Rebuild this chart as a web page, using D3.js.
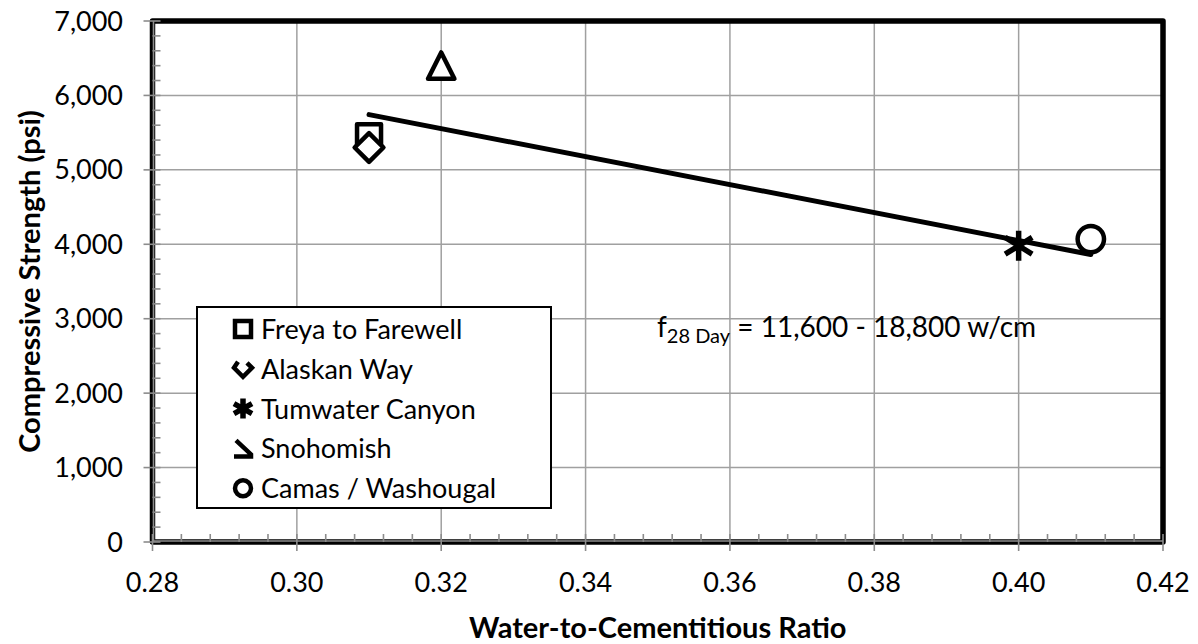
<!DOCTYPE html>
<html>
<head>
<meta charset="utf-8">
<script src="https://cdn.jsdelivr.net/npm/d3@7"></script>
<style>
  html, body { margin: 0; padding: 0; background: #fff; }
  svg { display: block; font-family: Lato, "Open Sans", sans-serif; }
</style>
</head>
<body>
<svg id="chart" width="1198" height="644"></svg>
<script>
// ---- data ----
const seriesNames = ["Freya to Farewell", "Alaskan Way", "Tumwater Canyon", "Snohomish", "Camas / Washougal"];
const seriesSymbols = ["square", "diamond", "star", "triangle", "circle"];
const wcRatio = [0.31, 0.31, 0.40, 0.32, 0.41];
const strength = [5450, 5300, 3980, 6400, 4070];
const xTicks = [0.28, 0.30, 0.32, 0.34, 0.36, 0.38, 0.40, 0.42];
const yTicks = [0, 1000, 2000, 3000, 4000, 5000, 6000, 7000];
const trendIntercept = 11570;
const trendSlope = -18800;
const trendRange = [0.31, 0.41];
const xTitle = "Water-to-Cementitious Ratio";
const yTitle = "Compressive Strength (psi)";

// ---- layout ----
const svg = d3.select("#chart");
const pL = 152.5, pR = 1163, pT = 21, pB = 542;
const x = d3.scaleLinear().domain([0.28, 0.42]).range([pL, pR]);
const y = d3.scaleLinear().domain([0, 7000]).range([pB, pT]);
const gridColor = "#a0a0a0";
const fontSize = 27;

// gridlines
svg.append("g").selectAll("line").data(xTicks.slice(1, -1)).join("line")
  .attr("x1", d => x(d)).attr("x2", d => x(d)).attr("y1", pT).attr("y2", pB)
  .attr("stroke", gridColor).attr("stroke-width", 1.5);
svg.append("g").selectAll("line").data(yTicks.slice(1, -1)).join("line")
  .attr("y1", d => y(d)).attr("y2", d => y(d)).attr("x1", pL).attr("x2", pR)
  .attr("stroke", gridColor).attr("stroke-width", 1.5);

// frame
svg.append("rect").attr("x", pL).attr("y", pT).attr("width", pR - pL).attr("height", pB - pT)
  .attr("fill", "none").attr("stroke", "#000").attr("stroke-width", 5.5).attr("stroke-linejoin", "round");

// axes (gray lines, ticks)
const xMinor = d3.range(0, 36).map(i => 0.28 + i * 0.004).filter((d, i) => i % 5 !== 0);
const yMinor = d3.range(0, 36).map(i => i * 200).filter((d, i) => i % 5 !== 0);
const axG = svg.append("g").attr("stroke", "#8c8c8c").attr("stroke-width", 1.6);
axG.append("line").attr("x1", pL).attr("x2", pR).attr("y1", pB - 1).attr("y2", pB - 1);
axG.append("line").attr("x1", pL + 1).attr("x2", pL + 1).attr("y1", pT).attr("y2", pB);
axG.append("g").selectAll("line").data(xMinor).join("line")
  .attr("x1", d => x(d)).attr("x2", d => x(d)).attr("y1", pB).attr("y2", pB - 8);
axG.append("g").selectAll("line").data(xTicks).join("line")
  .attr("x1", d => x(d)).attr("x2", d => x(d)).attr("y1", pB - 8).attr("y2", pB + 9);
axG.append("g").selectAll("line").data(yMinor).join("line")
  .attr("y1", d => y(d)).attr("y2", d => y(d)).attr("x1", pL).attr("x2", pL + 8);
axG.append("g").selectAll("line").data(yTicks).join("line")
  .attr("y1", d => y(d)).attr("y2", d => y(d)).attr("x1", pL - 9).attr("x2", pL + 8);

// tick labels
svg.append("g").selectAll("text").data(xTicks).join("text")
  .attr("x", d => x(d)).attr("y", 592).attr("text-anchor", "middle")
  .attr("font-size", fontSize).attr("fill", "#000").text(d => d3.format(".2f")(d));
svg.append("g").selectAll("text").data(yTicks).join("text")
  .attr("x", 123).attr("y", d => y(d) + 9.5).attr("text-anchor", "end")
  .attr("font-size", fontSize).attr("fill", "#000").text(d => d3.format(",")(d));

// axis titles
svg.append("text").attr("x", (pL + pR) / 2).attr("y", 638).attr("text-anchor", "middle")
  .attr("font-size", 29).attr("font-weight", "bold").text(xTitle);
svg.append("text").attr("transform", `translate(40,${(pT + pB) / 2}) rotate(-90)`)
  .attr("text-anchor", "middle").attr("font-size", 29).attr("font-weight", "bold").text(yTitle);

// trendline
svg.append("line")
  .attr("x1", x(trendRange[0])).attr("y1", y(trendIntercept + trendSlope * trendRange[0]))
  .attr("x2", x(trendRange[1])).attr("y2", y(trendIntercept + trendSlope * trendRange[1]))
  .attr("stroke", "#000").attr("stroke-width", 5).attr("stroke-linecap", "round");

// markers
function symbolPath(type, s) {
  switch (type) {
    case "square": return `M${-s},${-s}H${s}V${s}H${-s}Z`;
    case "diamond": return `M0,${-s * 1.2}L${s * 1.2},0L0,${s * 1.2}L${-s * 1.2},0Z`;
    case "triangle": return `M0,${-s * 1.1}L${s * 1.1},${s * 1.1}L${-s * 1.1},${s * 1.1}Z`;
    case "circle": return `M${s * 1.1},0A${s * 1.1},${s * 1.1} 0 1,1 ${-s * 1.1},0A${s * 1.1},${s * 1.1} 0 1,1 ${s * 1.1},0Z`;
    case "star": {
      const r = s * 1.25, h = r * 0.9;
      return `M0,${-r}V${r}M${-h},${-h * 0.62}L${h},${h * 0.62}M${-h},${h * 0.62}L${h},${-h * 0.62}`;
    }
  }
}
const pts = wcRatio.map((w, i) => ({ w, v: strength[i], sym: seriesSymbols[i] }));
svg.append("g").selectAll("path").data(pts).join("path")
  .attr("transform", d => `translate(${x(d.w)},${y(d.v)})`)
  .attr("d", d => symbolPath(d.sym, 12))
  .attr("fill", d => d.sym === "star" ? "none" : "#fff")
  .attr("stroke", "#000").attr("stroke-width", d => d.sym === "star" ? 5.5 : 4.5)
  .attr("stroke-linejoin", "round").attr("stroke-linecap", "butt");

// annotation
const ann = svg.append("text").attr("x", 657).attr("y", 337).attr("font-size", 28).attr("fill", "#000");
ann.append("tspan").text("f");
ann.append("tspan").attr("font-size", 20).attr("dy", 6).text("28 Day");
ann.append("tspan").attr("dy", -6).text(" = 11,600 - 18,800 w/cm");

// legend
const lg = svg.append("g");
lg.append("rect").attr("x", 197).attr("y", 307).attr("width", 354).attr("height", 201)
  .attr("fill", "#fff").attr("stroke", "#000").attr("stroke-width", 2);
const legendMarks = {
  square: "M-8,-8H8V8H-8Z",
  diamond: "M-5,-7L-9,-1L0,8L9,-1L4,-6",
  star: "M0,-10V10M-9,-5L9,5M-9,5L9,-5",
  triangle: "M-7,-8L8,6V8H-9",
  circle: "M8,0A8,8 0 1,1 -8,0A8,8 0 1,1 8,0Z"
};
const rows = lg.selectAll("g").data(seriesNames).join("g")
  .attr("transform", (d, i) => `translate(243,${329 + i * 39.8})`);
rows.append("path").attr("d", (d, i) => legendMarks[seriesSymbols[i]])
  .attr("fill", "none").attr("stroke", "#000")
  .attr("stroke-width", (d, i) => seriesSymbols[i] === "star" ? 5.5 : 4.5)
  .attr("stroke-linejoin", "miter");
rows.append("text").attr("x", 18).attr("y", 10).attr("font-size", fontSize).attr("fill", "#000").text(d => d);
</script>
</body>
</html>
